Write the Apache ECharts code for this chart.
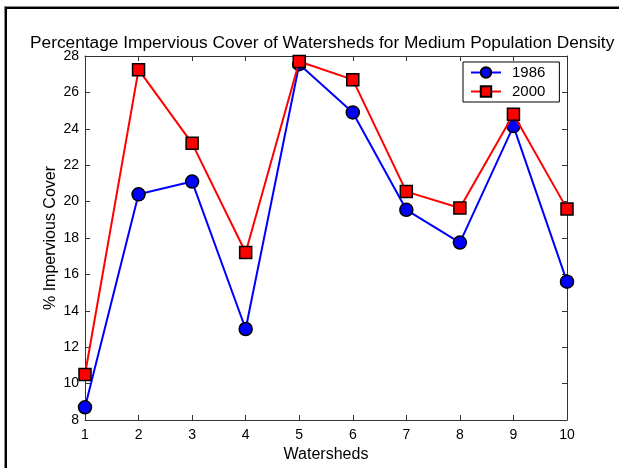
<!DOCTYPE html>
<html><head><meta charset="utf-8">
<script src="https://cdn.jsdelivr.net/npm/echarts@6/dist/echarts.min.js"></script>
<style>html,body{margin:0;padding:0;background:#fff}#c{width:619px;height:468px}</style>
</head><body><div id="c"></div>
<script>
const watersheds = [1,2,3,4,5,6,7,8,9,10];
const cover1986 = [8.7, 20.4, 21.1, 13.0, 27.55, 24.9, 19.55, 17.75, 24.15, 15.6];
const cover2000 = [10.5, 27.25, 23.2, 17.2, 27.7, 26.7, 20.55, 19.65, 24.8, 19.6];
const yTicks = [8,10,12,14,16,18,20,22,24,26,28];
const seriesNames = ['1986','2000'];
const titleText = 'Percentage Impervious Cover of Watersheds for Medium Population Density';

const font = 'Liberation Sans, Arial, sans-serif';
const axisColor = '#333';
const chart = echarts.init(document.getElementById('c'), null, {renderer:'canvas'});
const pair = (xs, ys) => xs.map((x,i)=>[x, ys[i]]);
const baseX = {type:'value', min:1, max:10, interval:1,
  axisLine:{show:true, onZero:false, lineStyle:{color:axisColor, width:1}},
  axisTick:{show:true, inside:true, length:5, lineStyle:{color:axisColor}},
  splitLine:{show:false}};
const baseY = {type:'value', min:yTicks[0], max:yTicks[yTicks.length-1], interval:2,
  axisLine:{show:true, onZero:false, lineStyle:{color:axisColor, width:1}},
  axisTick:{show:true, inside:true, length:5, lineStyle:{color:axisColor}},
  splitLine:{show:false}};
chart.setOption({
  animation:false,
  backgroundColor:'#fff',
  title:{text:titleText, left:25, top:30, textStyle:{fontFamily:font, fontSize:17.3, fontWeight:'normal', color:'#000'}},
  grid:{left:85, right:52, top:56, bottom:46, containLabel:false},
  legend:{
    data:seriesNames, orient:'vertical', left:463, top:62,
    itemWidth:30, itemHeight:13, itemGap:4,
    padding:[3,14,3,7],
    borderColor:'#000', borderWidth:1, backgroundColor:'#fff',
    textStyle:{fontFamily:font, fontSize:15, color:'#000', padding:[0,0,0,6]}
  },
  xAxis:[
    Object.assign({}, baseX, {position:'bottom', name:'Watersheds', nameLocation:'middle', nameGap:27, nameMoveOverlap:false,
      nameTextStyle:{fontFamily:font, fontSize:16, color:'#000'},
      axisLabel:{fontFamily:font, fontSize:14, color:'#000', margin:8}}),
    Object.assign({}, baseX, {position:'top', axisLabel:{show:false}})
  ],
  yAxis:[
    Object.assign({}, baseY, {position:'left', name:'% Impervious Cover', nameLocation:'middle', nameGap:26, nameMoveOverlap:false,
      nameTextStyle:{fontFamily:font, fontSize:16, color:'#000'},
      axisLabel:{fontFamily:font, fontSize:14, color:'#000', margin:6}}),
    Object.assign({}, baseY, {position:'right', axisLabel:{show:false}})
  ],
  series:[
    {name:seriesNames[0], type:'line', data:pair(watersheds, cover1986), symbol:'circle', symbolSize:13,
      lineStyle:{color:'#0000ff', width:2}, itemStyle:{color:'#0000ff', borderColor:'#000', borderWidth:1.5}, z:2},
    {name:seriesNames[1], type:'line', data:pair(watersheds, cover2000), symbol:'rect', symbolSize:12,
      lineStyle:{color:'#ff0000', width:2}, itemStyle:{color:'#ff0000', borderColor:'#000', borderWidth:1.5}, z:3}
  ],
  graphic:[
    {type:'rect', shape:{x:4, y:6, width:615, height:1}, style:{fill:'#888'}, silent:true},
    {type:'rect', shape:{x:5, y:7, width:614, height:2}, style:{fill:'#000'}, silent:true},
    {type:'rect', shape:{x:4, y:6, width:1, height:462}, style:{fill:'#888'}, silent:true},
    {type:'rect', shape:{x:5, y:7, width:2, height:461}, style:{fill:'#000'}, silent:true}
  ]
});
</script></body></html>
